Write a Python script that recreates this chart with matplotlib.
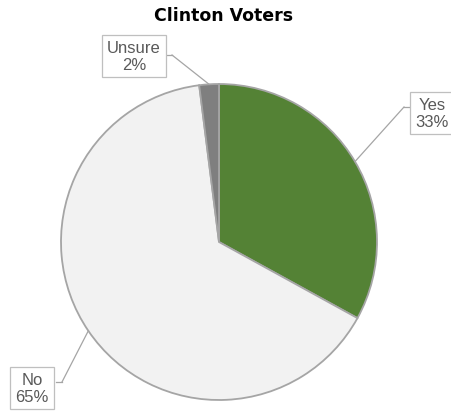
import numpy as np
from matplotlib import pyplot as plt

# Survey answers of Clinton voters
answers = ['Yes', 'No', 'Unsure']
shares = [33, 65, 2]
slice_colors = ['#548235', '#F2F2F2', '#7F7F7F']

# where each callout box sits (canvas pixels, y measured upward)
label_spots = [(432, 300), (32, 25), (134, 357)]
elbow_spots = [(404, 306), (62, 31), (172, 358)]

fig = plt.figure(figsize=(4.52, 4.14), dpi=100)
ax = fig.add_axes([0, 0, 1, 1])

center = (219, 171)
radius = 158
wedges, _ = ax.pie(shares, colors=slice_colors, startangle=90, counterclock=False,
                   center=center, radius=radius, frame=True,
                   wedgeprops=dict(edgecolor='#A5A5A5', linewidth=1.3))
ax.set_xlim(0, 452)
ax.set_ylim(0, 414)
ax.set_aspect('equal')
ax.axis('off')

for w, name, val, spot, elbow in zip(wedges, answers, shares, label_spots, elbow_spots):
    mid = np.deg2rad((w.theta1 + w.theta2) / 2)
    tip = (center[0] + radius * np.cos(mid), center[1] + radius * np.sin(mid))
    ax.plot([tip[0], elbow[0]], [tip[1], elbow[1]], color='#A5A5A5', lw=0.9)
    side = 1 if spot[0] > elbow[0] else -1
    ax.plot([elbow[0], elbow[0] + side * 6], [elbow[1], elbow[1]], color='#A5A5A5', lw=0.9)
    ax.text(spot[0], spot[1], f'{name}\n{val}%', ha='center', va='center',
            fontsize=12, family='Liberation Sans', color='#595959', linespacing=1.15,
            bbox=dict(boxstyle='square,pad=0.3', fc='white', ec='#BFBFBF', lw=0.9))

ax.text(224, 407, 'Clinton Voters', ha='center', va='top', fontsize=12.5,
        fontweight='heavy', family='DejaVu Sans', color='black')

plt.savefig('out.png', dpi=100)
